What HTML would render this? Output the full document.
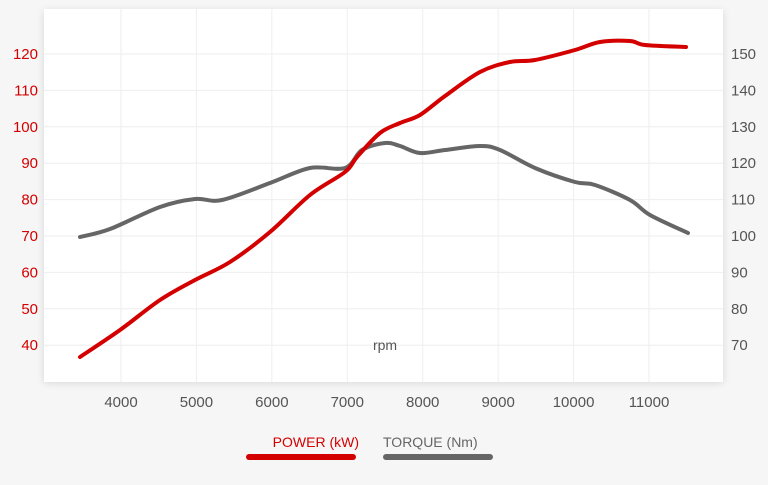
<!DOCTYPE html>
<html><head><meta charset="utf-8"><style>
body{margin:0;width:768px;height:480px;background:#f6f6f6;font-family:"Liberation Sans",sans-serif;overflow:hidden}
</style></head><body>
<svg width="768" height="480" xmlns="http://www.w3.org/2000/svg">
<defs><filter id="sh" x="-5%" y="-5%" width="110%" height="110%"><feGaussianBlur stdDeviation="4"/></filter></defs>
<rect x="44" y="11" width="679" height="372" fill="#000" opacity="0.12" filter="url(#sh)"/>
<rect x="44" y="9" width="679" height="373" fill="#fff"/>
<g stroke="#eeeeee" stroke-width="1" id="grid"></g>
<g font-size="15" fill="#d40000" text-anchor="end" id="ly"></g>
<g font-size="15" fill="#555" text-anchor="start" id="ry"></g>
<g font-size="15" fill="#555" text-anchor="middle" id="xl"></g>
<text x="385" y="350" font-size="14" fill="#555" text-anchor="middle">rpm</text>
<path id="tq" fill="none" stroke="#666" stroke-width="4" stroke-linecap="round"/>
<path id="pw" fill="none" stroke="#d40000" stroke-width="4" stroke-linecap="round"/>
<text x="359" y="447" font-size="14" fill="#d40000" text-anchor="end">POWER (kW)</text>
<text x="383" y="447" font-size="14" fill="#666">TORQUE (Nm)</text>
<rect x="246" y="454" width="110" height="6" rx="3" fill="#d40000"/>
<rect x="383" y="454" width="110" height="6" rx="3" fill="#666"/>
</svg>
<script>
var NS="http://www.w3.org/2000/svg";
function el(p,t,a,txt){var e=document.createElementNS(NS,t);for(var k in a)e.setAttribute(k,a[k]);if(txt)e.textContent=txt;document.getElementById(p).appendChild(e);}
for(var i=0;i<9;i++){var v=120-i*10,y=54+i*36.4;el("grid","line",{x1:44,x2:723,y1:y,y2:y});el("ly","text",{x:38,y:y+5},String(v));el("ry","text",{x:731,y:y+5},String(150-i*10));}
for(var r=4000;r<=11000;r+=1000){var x=121+(r-4000)*0.07543;el("grid","line",{x1:x,x2:x,y1:9,y2:382});el("xl","text",{x:x,y:407},String(r));}
function cr(p){var d="M"+p[0][0]+","+p[0][1];for(var i=0;i<p.length-1;i++){var a=p[i-1]||p[i],b=p[i],c=p[i+1],e=p[i+2]||c;d+=" C"+(b[0]+(c[0]-a[0])/6)+","+(b[1]+(c[1]-a[1])/6)+" "+(c[0]-(e[0]-b[0])/6)+","+(c[1]-(e[1]-b[1])/6)+" "+c[0]+","+c[1];}return d;}
var P=[[80,357],[120,330],[160,300],[195,280],[230,262],[270,232],[310,195],[345,172],[357,157],[380,133],[400,123],[420,115],[445,96],[480,72],[510,62],[535,60],[575,50],[600,42],[630,41],[645,45],[686,47]];
var T=[[80,237],[110,229],[160,207],[195,199],[222,200],[270,183],[310,168],[345,168],[362,150],[385,143],[400,146],[420,153],[445,150],[480,146],[500,150],[535,168],[575,182],[595,185],[630,200],[650,215],[688,233]];
document.getElementById("pw").setAttribute("d",cr(P));
document.getElementById("tq").setAttribute("d",cr(T));
</script>
</body></html>
